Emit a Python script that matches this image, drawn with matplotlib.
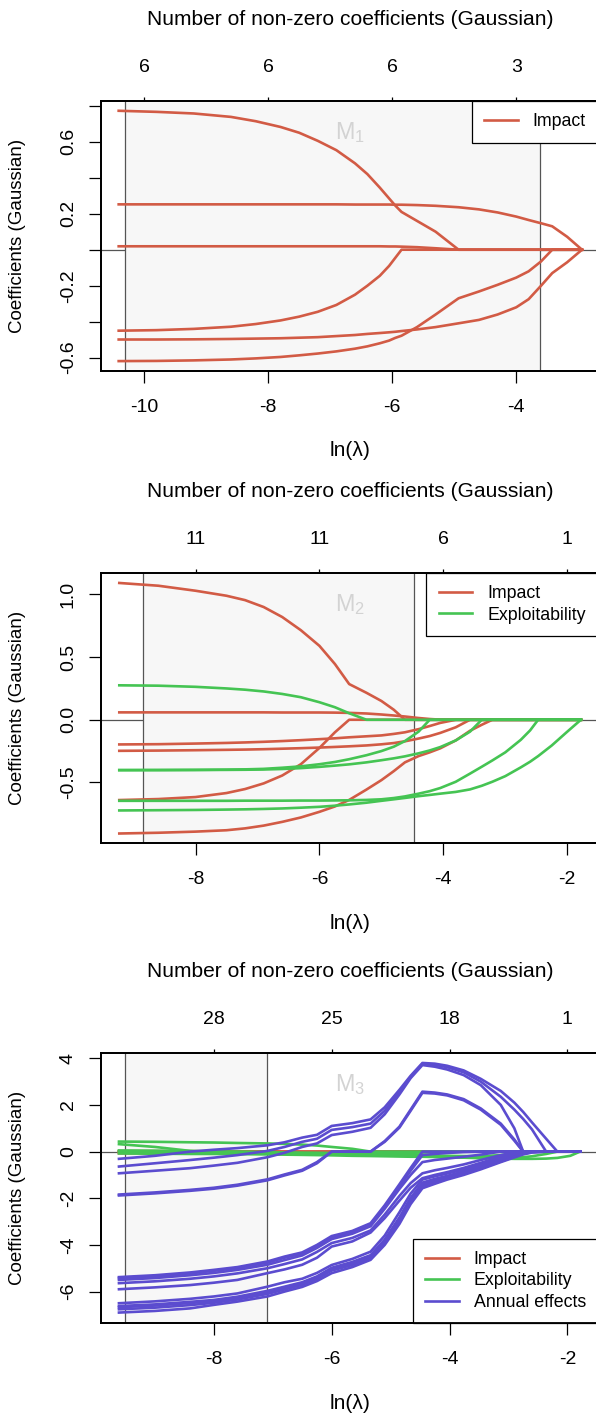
import matplotlib
matplotlib.use('Agg')
import matplotlib.pyplot as plt
from matplotlib.lines import Line2D

plt.rcParams['font.family'] = ['Liberation Sans', 'DejaVu Sans']
plt.rcParams['axes.unicode_minus'] = False

RED = '#d25b45'
GREEN = '#45c453'
PURPLE = '#5b4ccf'

# ---------------- M1 : impact only
m1_x = [-10.41, -9.8, -9.2, -8.6, -8.2, -7.8, -7.5, -7.2, -6.9, -6.6, -6.4, -6.2, -6.05,
        -5.95, -5.85, -5.6, -5.3, -4.93, -4.6, -4.3, -4.0, -3.8, -3.6, -3.42, -3.18, -2.94]
m1_impact = [
    [0.772, 0.766, 0.757, 0.738, 0.714, 0.682, 0.65, 0.605, 0.553, 0.48, 0.42, 0.345, 0.285,
     0.245, 0.21, 0.16, 0.10, 0, 0, 0, 0, 0, 0, 0, 0, 0],
    [0.252, 0.252, 0.252, 0.252, 0.252, 0.252, 0.252, 0.252, 0.252, 0.251, 0.251, 0.251, 0.251,
     0.25, 0.25, 0.248, 0.244, 0.236, 0.224, 0.207, 0.184, 0.165, 0.147, 0.13, 0.072, 0],
    [0.019, 0.019, 0.019, 0.019, 0.019, 0.019, 0.019, 0.019, 0.019, 0.019, 0.019, 0.019, 0.018,
     0.018, 0.017, 0.014, 0.008, 0, 0, 0, 0, 0, 0, 0, 0, 0],
    [-0.45, -0.447, -0.44, -0.428, -0.413, -0.393, -0.372, -0.345, -0.307, -0.25, -0.2, -0.145, -0.09,
     -0.045, 0, 0, 0, 0, 0, 0, 0, 0, 0, 0, 0, 0],
    [-0.499, -0.499, -0.498, -0.496, -0.494, -0.492, -0.489, -0.486, -0.48, -0.474, -0.468, -0.463, -0.459,
     -0.456, -0.452, -0.443, -0.43, -0.409, -0.39, -0.36, -0.32, -0.275, -0.2, -0.13, -0.07, 0],
    [-0.619, -0.618, -0.615, -0.61, -0.604, -0.596, -0.587, -0.577, -0.565, -0.55, -0.537, -0.52, -0.505,
     -0.49, -0.478, -0.43, -0.36, -0.27, -0.232, -0.195, -0.155, -0.12, -0.065, 0, 0, 0],
]
m1_xticks = [-10, -8, -6, -4]
m1_df = ['6', '6', '6', '3']
m1_yticks = [-0.6, -0.4, -0.2, 0.0, 0.2, 0.4, 0.6, 0.8]
m1_ylabels = ['-0.6', '', '-0.2', '', '0.2', '', '0.6', '']
m1_band = [-10.31, -3.61]

# ---------------- M2 : impact + exploitability
m2_x = [-9.23, -8.6, -8.0, -7.5, -7.2, -6.9, -6.6, -6.3, -6.0, -5.75, -5.52, -5.24, -5.0, -4.8,
        -4.62, -4.4, -4.22, -4.05, -3.8, -3.57, -3.38, -3.21, -3.0, -2.75, -2.6, -2.47, -2.25,
        -2.0, -1.78]
m2_impact = [
    [1.092, 1.07, 1.03, 0.99, 0.955, 0.9, 0.82, 0.715, 0.59, 0.445, 0.285, 0.215, 0.15, 0.08,
     0, 0, 0, 0, 0, 0, 0, 0, 0, 0, 0, 0, 0, 0, 0],
    [0.059, 0.059, 0.059, 0.059, 0.059, 0.059, 0.058, 0.058, 0.058, 0.057, 0.055, 0.05, 0.042, 0.034,
     0.026, 0.014, 0.006, 0.001, 0, 0, 0, 0, 0, 0, 0, 0, 0, 0, 0],
    [-0.197, -0.195, -0.19, -0.185, -0.181, -0.176, -0.17, -0.163, -0.155, -0.148, -0.14, -0.132, -0.125, -0.113,
     -0.1, -0.075, -0.05, -0.025, 0, 0, 0, 0, 0, 0, 0, 0, 0, 0, 0],
    [-0.248, -0.246, -0.243, -0.24, -0.238, -0.235, -0.231, -0.227, -0.222, -0.217, -0.212, -0.205, -0.196, -0.186,
     -0.172, -0.15, -0.13, -0.105, -0.06, 0, 0, 0, 0, 0, 0, 0, 0, 0, 0],
    [-0.641, -0.633, -0.617, -0.585, -0.553, -0.508, -0.445, -0.355, -0.225, -0.1, 0, 0, 0, 0,
     0, 0, 0, 0, 0, 0, 0, 0, 0, 0, 0, 0, 0, 0, 0],
    [-0.908, -0.902, -0.893, -0.882, -0.867, -0.845, -0.815, -0.78, -0.735, -0.692, -0.64, -0.557, -0.482, -0.41,
     -0.34, -0.29, -0.26, -0.228, -0.165, -0.088, -0.04, 0, 0, 0, 0, 0, 0, 0, 0],
]
m2_exploit = [
    [0.275, 0.272, 0.263, 0.25, 0.24, 0.226, 0.206, 0.18, 0.14, 0.1, 0.052, 0, 0, 0,
     0, 0, 0, 0, 0, 0, 0, 0, 0, 0, 0, 0, 0, 0, 0],
    [-0.402, -0.401, -0.4, -0.398, -0.396, -0.392, -0.383, -0.372, -0.355, -0.337, -0.315, -0.283, -0.25, -0.215,
     -0.17, -0.095, 0, 0, 0, 0, 0, 0, 0, 0, 0, 0, 0, 0, 0],
    [-0.402, -0.402, -0.401, -0.4, -0.399, -0.397, -0.393, -0.386, -0.376, -0.366, -0.356, -0.34, -0.323, -0.308,
     -0.292, -0.268, -0.245, -0.218, -0.165, -0.095, 0, 0, 0, 0, 0, 0, 0, 0, 0],
    [-0.647, -0.647, -0.647, -0.647, -0.646, -0.646, -0.646, -0.645, -0.645, -0.644, -0.643, -0.64, -0.635, -0.625,
     -0.612, -0.59, -0.57, -0.545, -0.495, -0.43, -0.375, -0.325, -0.26, -0.16, -0.085, 0, 0, 0, 0],
    [-0.724, -0.722, -0.72, -0.717, -0.715, -0.712, -0.708, -0.702, -0.695, -0.686, -0.676, -0.662, -0.647, -0.635,
     -0.624, -0.61, -0.6, -0.59, -0.576, -0.556, -0.527, -0.495, -0.45, -0.38, -0.335, -0.29, -0.205,
     -0.095, 0],
]
m2_xticks = [-8, -6, -4, -2]
m2_df = ['11', '11', '6', '1']
m2_yticks = [-0.5, 0.0, 0.5, 1.0]
m2_ylabels = ['-0.5', '0.0', '0.5', '1.0']
m2_band = [-8.855, -4.48]

# ---------------- M3 : impact + exploitability + annual effects
m3_x = [-9.61, -9.0, -8.4, -8.0, -7.6, -7.09, -6.8, -6.5, -6.25, -6.0, -5.65, -5.34, -5.1, -4.85,
        -4.66, -4.46, -4.25, -4.04, -3.76, -3.47, -3.13, -2.9, -2.75, -2.6, -2.36, -2.17, -1.95, -1.785]
m3_impact = [
    [0.02, 0.02, 0.018, 0.015, 0.012, 0.008, 0.005, 0.003, 0.001, 0, 0, 0, 0, 0,
     0, 0, 0, 0, 0, 0, 0, 0, 0, 0, 0, 0, 0, 0],
    [-0.07, -0.068, -0.065, -0.06, -0.055, -0.048, -0.042, -0.035, -0.028, -0.02, -0.012, -0.005, 0, 0,
     0, 0, 0, 0, 0, 0, 0, 0, 0, 0, 0, 0, 0, 0],
    [-0.04, -0.039, -0.037, -0.035, -0.032, -0.028, -0.024, -0.02, -0.015, -0.01, -0.005, 0, 0, 0,
     0, 0, 0, 0, 0, 0, 0, 0, 0, 0, 0, 0, 0, 0],
    [0.01, 0.01, 0.009, 0.008, 0.006, 0.004, 0.002, 0, 0, 0, 0, 0, 0, 0,
     0, 0, 0, 0, 0, 0, 0, 0, 0, 0, 0, 0, 0, 0],
]
m3_exploit = [
    [0.43, 0.42, 0.40, 0.39, 0.37, 0.35, 0.33, 0.3, 0.26, 0.2, 0.12, 0, 0, 0,
     0, 0, 0, 0, 0, 0, 0, 0, 0, 0, 0, 0, 0, 0],
    [0.32, 0.2, 0.03, -0.01, -0.02, -0.03, -0.04, -0.05, -0.05, -0.06, -0.06, -0.06, -0.06, -0.05,
     -0.05, -0.04, -0.03, -0.02, 0, 0, 0, 0, 0, 0, 0, 0, 0, 0],
    [0.05, 0.04, 0.02, 0.01, 0.0, -0.02, -0.04, -0.06, -0.07, -0.08, -0.1, -0.12, -0.13, -0.14,
     -0.15, -0.16, -0.17, -0.18, -0.19, -0.2, -0.15, -0.08, 0, 0, 0, 0, 0, 0],
    [0.0, -0.02, -0.04, -0.05, -0.06, -0.08, -0.09, -0.1, -0.11, -0.12, -0.14, -0.16, -0.17, -0.18,
     -0.19, -0.2, -0.22, -0.23, -0.25, -0.27, -0.28, -0.27, -0.24, -0.2, -0.1, 0, 0, 0],
    [-0.08, -0.09, -0.1, -0.1, -0.11, -0.12, -0.13, -0.14, -0.15, -0.16, -0.18, -0.19, -0.2, -0.21,
     -0.22, -0.22, -0.23, -0.24, -0.26, -0.28, -0.3, -0.31, -0.31, -0.31, -0.3, -0.27, -0.18, 0],
]
m3_annual = [
    [-0.31, -0.18, 0.0, 0.08, 0.15, 0.27, 0.4, 0.6, 0.72, 1.1, 1.22, 1.38, 1.9, 2.65,
     3.25, 3.8, 3.77, 3.68, 3.48, 3.12, 2.6, 2.1, 1.7, 1.25, 0.55, 0, 0, 0],
    [-0.64, -0.5, -0.36, -0.26, -0.15, 0.03, 0.2, 0.42, 0.55, 0.93, 1.05, 1.2, 1.75, 2.55,
     3.2, 3.76, 3.72, 3.62, 3.4, 3.0, 2.35, 1.8, 1.4, 0.95, 0, 0, 0, 0],
    [-0.93, -0.82, -0.71, -0.6, -0.48, -0.24, -0.05, 0.2, 0.35, 0.71, 0.85, 1.02, 1.6, 2.45,
     3.15, 3.71, 3.64, 3.52, 3.28, 2.85, 2.0, 1.0, 0, 0, 0, 0, 0, 0],
    [-1.84, -1.75, -1.64, -1.55, -1.42, -1.19, -0.98, -0.78, -0.45, 0, 0, 0, 0.45, 1.07,
     1.8, 2.57, 2.53, 2.45, 2.25, 1.85, 1.2, 0.52, 0, 0, 0, 0, 0, 0],
    [-1.88, -1.79, -1.68, -1.59, -1.46, -1.23, -1.02, -0.82, -0.5, 0, 0, 0, 0.42, 1.03,
     1.75, 2.52, 2.49, 2.41, 2.2, 1.8, 1.15, 0.47, 0, 0, 0, 0, 0, 0],
    [-5.38, -5.3, -5.18, -5.07, -4.95, -4.71, -4.5, -4.32, -4.0, -3.62, -3.4, -3.07, -2.3, -1.4,
     -0.7, 0, 0, 0, 0, 0, 0, 0, 0, 0, 0, 0, 0, 0],
    [-5.42, -5.34, -5.22, -5.11, -4.99, -4.76, -4.55, -4.37, -4.05, -3.68, -3.45, -3.12, -2.38, -1.5,
     -0.82, -0.15, -0.1, -0.06, -0.02, 0, 0, 0, 0, 0, 0, 0, 0, 0],
    [-5.5, -5.42, -5.3, -5.2, -5.07, -4.85, -4.65, -4.45, -4.13, -3.75, -3.52, -3.2, -2.45, -1.6,
     -1.0, -0.45, -0.36, -0.3, -0.22, -0.13, 0, 0, 0, 0, 0, 0, 0, 0],
    [-5.64, -5.56, -5.45, -5.35, -5.22, -5.0, -4.82, -4.62, -4.3, -3.92, -3.7, -3.38, -2.7, -1.9,
     -1.35, -0.93, -0.8, -0.7, -0.55, -0.36, -0.15, -0.03, 0, 0, 0, 0, 0, 0],
    [-5.9, -5.82, -5.72, -5.62, -5.5, -5.21, -5.05, -4.85, -4.55, -4.07, -3.85, -3.47, -2.85, -2.1,
     -1.55, -1.14, -1.0, -0.88, -0.7, -0.48, -0.22, -0.08, 0, 0, 0, 0, 0, 0],
    [-6.5, -6.42, -6.31, -6.21, -6.08, -5.79, -5.6, -5.45, -5.2, -4.86, -4.6, -4.29, -3.6, -2.6,
     -1.8, -1.2, -1.06, -0.94, -0.77, -0.56, -0.29, -0.12, -0.04, 0, 0, 0, 0, 0],
    [-6.62, -6.55, -6.44, -6.36, -6.22, -5.97, -5.79, -5.6, -5.35, -4.98, -4.73, -4.44, -3.77, -2.82,
     -1.98, -1.33, -1.17, -1.04, -0.85, -0.63, -0.35, -0.16, -0.06, 0, 0, 0, 0, 0],
    [-6.67, -6.6, -6.49, -6.41, -6.27, -6.02, -5.84, -5.65, -5.4, -5.03, -4.79, -4.5, -3.84, -2.9,
     -2.05, -1.4, -1.24, -1.1, -0.9, -0.68, -0.39, -0.19, -0.08, -0.01, 0, 0, 0, 0],
    [-6.76, -6.69, -6.58, -6.48, -6.34, -6.1, -5.91, -5.71, -5.46, -5.1, -4.86, -4.56, -3.92, -3.0,
     -2.15, -1.48, -1.31, -1.15, -0.95, -0.72, -0.42, -0.22, -0.1, -0.02, 0, 0, 0, 0],
    [-6.9, -6.83, -6.72, -6.57, -6.43, -6.21, -6.0, -5.8, -5.55, -5.21, -4.95, -4.64, -4.0, -3.1,
     -2.25, -1.57, -1.38, -1.2, -1.0, -0.76, -0.45, -0.25, -0.12, -0.04, 0, 0, 0, 0],
]
m3_xticks = [-8, -6, -4, -2]
m3_df = ['28', '25', '18', '1']
m3_yticks = [-6, -4, -2, 0, 2, 4]
m3_ylabels = ['-6', '-4', '-2', '0', '2', '4']
m3_band = [-9.51, -7.09]

W, H = 596, 1413
fig = plt.figure(figsize=(W / 100, H / 100), dpi=100)


def fx(px):
    return px / W


def fy(py):
    return 1 - py / H


def draw_panel(top, bottom, right, x, groups, xlim, ylim, xticks, dfs,
               yticks, ylabels, band, name, leg_left, leg_loc):
    ax = fig.add_axes([fx(100.7), fy(bottom), (right - 100.7) / W, (bottom - top) / H])
    ax.set_xlim(xlim)
    ax.set_ylim(ylim)

    # zero line, selected lambda band and its borders
    ax.axhline(0, color='#555555', lw=0.9, zorder=1)
    ax.axvspan(band[0], band[1], facecolor='#f7f7f7', lw=0, zorder=1.5)
    for b in band:
        ax.axvline(b, color='#555555', lw=0.9, zorder=2)

    handles = []
    for label, color, curves in groups:
        for c in curves:
            ax.plot(x, c, color=color, lw=1.9, zorder=3)
        handles.append(Line2D([], [], color=color, lw=1.9, label=label))

    ax.set_xticks(xticks)
    ax.set_xticklabels([str(t) for t in xticks])
    ax.set_yticks(yticks)
    ax.set_yticklabels(ylabels, rotation=90, va='center')
    ax.tick_params(length=8.6, width=0.9, labelsize=14)
    ax.tick_params(axis='x', pad=11.5)
    ax.tick_params(axis='y', pad=8.5)
    for s in ax.spines.values():
        s.set_linewidth(1.3)

    # number of non-zero coefficients on top
    tax = ax.twiny()
    tax.set_xlim(xlim)
    tax.set_xticks(xticks)
    tax.set_xticklabels(dfs)
    tax.tick_params(length=2.9, width=0.9, pad=15, labelsize=14)
    for s in tax.spines.values():
        s.set_linewidth(1.3)

    fig.text(fx(350), fy(top - 75.7), 'Number of non-zero coefficients (Gaussian)',
             ha='center', va='baseline', fontsize=15.1)
    fig.text(fx(350), fy(bottom + 85.5), 'ln(λ)', ha='center', va='baseline', fontsize=15.1)
    fig.text(fx(17.5), fy((top + bottom) / 2), 'Coefficients (Gaussian)', rotation=90,
             ha='center', va='center', fontsize=13.5)
    fig.text(fx(335), fy(top + 38), name, ha='left', va='baseline', fontsize=16.8,
             color='#d3d3d3')

    anchor_y = fy(top) if leg_loc == 'upper left' else fy(bottom)
    leg = ax.legend(handles=handles, loc=leg_loc, bbox_to_anchor=(fx(leg_left), anchor_y),
                    bbox_transform=fig.transFigure, fontsize=12.8, fancybox=False,
                    framealpha=1, edgecolor='black', borderaxespad=0, borderpad=0.7,
                    handlelength=1.88, handletextpad=0.84, labelspacing=0.25)
    leg.get_frame().set_linewidth(0.9)
    leg.set_zorder(10)
    return ax


draw_panel(100.7, 371.0, 600.6, m1_x, [('Impact', RED, m1_impact)],
           (-10.70, -2.64), (-0.674, 0.828), m1_xticks, m1_df, m1_yticks, m1_ylabels,
           m1_band, r'$\mathregular{M_1}$', 472, 'upper left')

draw_panel(572.7, 843.4, 599.5, m2_x,
           [('Impact', RED, m2_impact), ('Exploitability', GREEN, m2_exploit)],
           (-9.53, -1.48), (-0.987, 1.174), m2_xticks, m2_df, m2_yticks, m2_ylabels,
           m2_band, r'$\mathregular{M_2}$', 426.3, 'upper left')

draw_panel(1052.7, 1323.3, 598.6, m3_x,
           [('Impact', RED, m3_impact), ('Exploitability', GREEN, m3_exploit),
            ('Annual effects', PURPLE, m3_annual)],
           (-9.92, -1.47), (-7.36, 4.24), m3_xticks, m3_df, m3_yticks, m3_ylabels,
           m3_band, r'$\mathregular{M_3}$', 412.7, 'lower left')

fig.savefig('out.png', dpi=100)
